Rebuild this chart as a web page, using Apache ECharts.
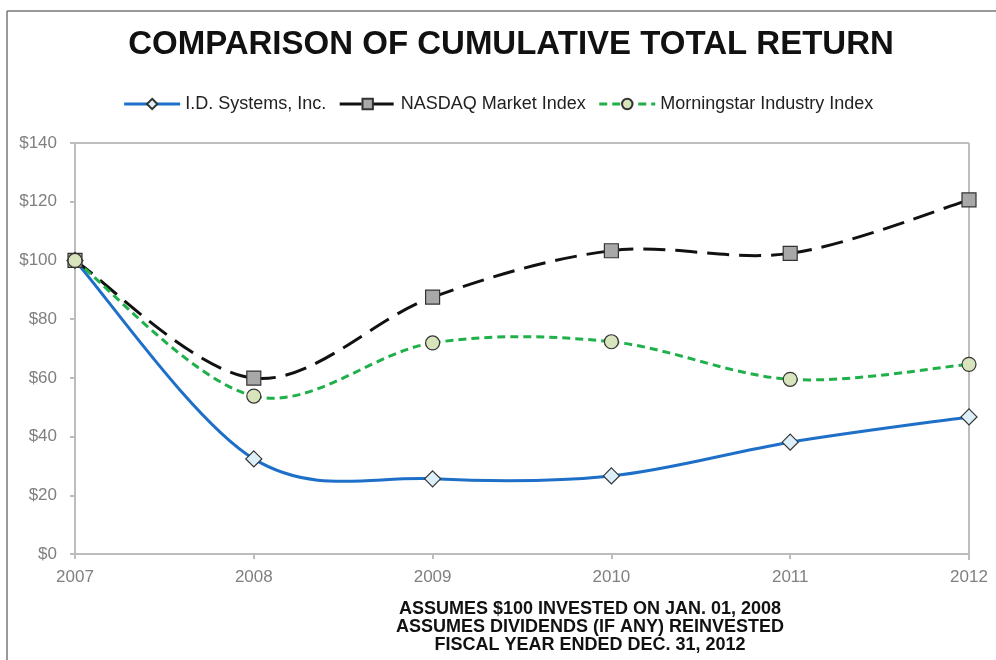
<!DOCTYPE html>
<html>
<head>
<meta charset="utf-8">
<script src="https://cdn.jsdelivr.net/npm/echarts@6/dist/echarts.min.js"></script>
<style>
html,body{margin:0;padding:0;background:#fff;}
#chart{width:996px;height:660px;}
</style>
</head>
<body>
<div id="chart"></div>
<script>
// data
const years = ['2007', '2008', '2009', '2010', '2011', '2012'];
const idSystems = [100, 32.4, 25.6, 26.6, 38.1, 46.7];
const nasdaq = [100, 59.9, 87.5, 103.3, 102.4, 120.6];
const morningstar = [100, 53.8, 71.9, 72.3, 59.5, 64.6];
const notes = [
  'ASSUMES $100 INVESTED ON JAN. 01, 2008',
  'ASSUMES DIVIDENDS (IF ANY) REINVESTED',
  'FISCAL YEAR ENDED DEC. 31, 2012'
];

const chart = echarts.init(document.getElementById('chart'));
const font = 'Arial, "Liberation Sans", sans-serif';

const blue = {color: '#1e6fc8', width: 3, type: 'solid'};
const black = {color: '#111', width: 3, type: [22, 10]};
const green = {color: '#1fb04a', width: 3, type: [8, 5]};

// excel-like smoothed curve through the data points (catmull-rom style)
function smoothLine(values, ls) {
  return function (params, api) {
    const pts = values.map((v, i) => api.coord([i, v]));
    const n = pts.length;
    const children = [];
    for (let i = 0; i < n - 1; i++) {
      const p0 = pts[Math.max(i - 1, 0)], p1 = pts[i], p2 = pts[i + 1], p3 = pts[Math.min(i + 2, n - 1)];
      children.push({
        type: 'bezierCurve',
        shape: {
          x1: p1[0], y1: p1[1], x2: p2[0], y2: p2[1],
          cpx1: p1[0] + (p2[0] - p0[0]) / 6, cpy1: p1[1] + (p2[1] - p0[1]) / 6,
          cpx2: p2[0] - (p3[0] - p1[0]) / 6, cpy2: p2[1] - (p3[1] - p1[1]) / 6
        },
        style: {stroke: ls.color, lineWidth: ls.width, lineDash: ls.type === 'solid' ? null : ls.type, fill: null}
      });
    }
    return {type: 'group', children: children};
  };
}

function legendItem(name, ls) {
  return {name: name, lineStyle: {color: ls.color, width: ls.width, type: ls.type, opacity: 1}};
}

const option = {
  backgroundColor: '#fff',
  animation: false,
  title: {
    text: 'COMPARISON OF CUMULATIVE TOTAL RETURN',
    left: 506, top: 23, textAlign: 'center',
    textStyle: {fontFamily: font, fontSize: 33, fontWeight: 'bold', color: '#111'}
  },
  legend: {
    top: 90, left: 'center',
    itemWidth: 56, itemHeight: 13, itemGap: 12,
    textStyle: {fontFamily: font, fontSize: 18, color: '#222'},
    data: [
      legendItem('I.D. Systems, Inc.', blue),
      legendItem('NASDAQ Market Index', black),
      legendItem('Morningstar Industry Index', green)
    ]
  },
  grid: {left: 75, right: 27, top: 143, bottom: 106},
  xAxis: {
    type: 'category', data: years, boundaryGap: false,
    axisLine: {lineStyle: {color: '#bdbdbd', width: 2}},
    axisTick: {show: true, alignWithLabel: true, length: 5, lineStyle: {color: '#bdbdbd', width: 2}},
    axisLabel: {fontFamily: font, fontSize: 17, color: '#808080', margin: 15}
  },
  yAxis: {
    type: 'value', min: 0, max: 140, interval: 20,
    axisLine: {show: true, lineStyle: {color: '#bdbdbd', width: 2}},
    axisTick: {show: true, length: 5, lineStyle: {color: '#bdbdbd', width: 2}},
    splitLine: {show: false},
    axisLabel: {fontFamily: font, fontSize: 17, color: '#808080', margin: 18, formatter: v => '$' + v}
  },
  graphic: [
    {type: 'line', shape: {x1: 7, y1: 11, x2: 996, y2: 11}, style: {stroke: '#777', lineWidth: 1.5}},
    {type: 'line', shape: {x1: 7, y1: 11, x2: 7, y2: 660}, style: {stroke: '#777', lineWidth: 1.5}},
    {type: 'line', shape: {x1: 75, y1: 143, x2: 969, y2: 143}, style: {stroke: '#bdbdbd', lineWidth: 2}},
    {type: 'line', shape: {x1: 969, y1: 143, x2: 969, y2: 560}, style: {stroke: '#bdbdbd', lineWidth: 2}},
    {
      type: 'text', x: 590, y: 600,
      style: {
        text: notes.join('\n'),
        textAlign: 'center',
        font: 'bold 18px ' + font, fill: '#111', lineHeight: 18
      }
    }
  ],
  series: [
    {type: 'custom', data: [0], renderItem: smoothLine(idSystems, blue), silent: true, z: 1},
    {type: 'custom', data: [0], renderItem: smoothLine(nasdaq, black), silent: true, z: 1},
    {type: 'custom', data: [0], renderItem: smoothLine(morningstar, green), silent: true, z: 1},
    {
      name: 'I.D. Systems, Inc.', type: 'line', data: idSystems,
      symbol: 'diamond', symbolSize: 16,
      lineStyle: Object.assign({}, blue, {opacity: 0}),
      itemStyle: {color: '#ddf0fa', borderColor: '#333', borderWidth: 1.2},
      z: 3
    },
    {
      name: 'NASDAQ Market Index', type: 'line', data: nasdaq,
      symbol: 'rect', symbolSize: 14,
      lineStyle: Object.assign({}, black, {opacity: 0}),
      itemStyle: {color: '#a8a8a8', borderColor: '#333', borderWidth: 1.2},
      z: 3
    },
    {
      name: 'Morningstar Industry Index', type: 'line', data: morningstar,
      symbol: 'circle', symbolSize: 14,
      lineStyle: Object.assign({}, green, {opacity: 0}),
      itemStyle: {color: '#d8e4bc', borderColor: '#333', borderWidth: 1.2},
      z: 4
    }
  ]
};
chart.setOption(option);
</script>
</body>
</html>
